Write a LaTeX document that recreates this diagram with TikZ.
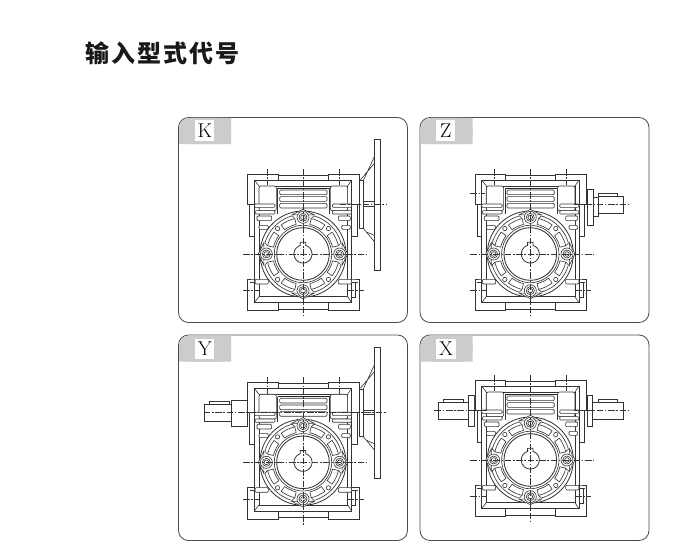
\documentclass[tikz,border=0pt]{standalone}
\usepackage{fontspec}
\newfontfamily\cjk[LetterSpace=8]{Noto Sans CJK SC}
\tikzset{
  panel/.style={draw=black!70,line width=.6pt,fill=white,rounded corners=7.5pt},
  tabgray/.style={fill=black!20,draw=none},
  tag/.style={fill=white,inner sep=0pt,minimum width=14.5pt,minimum height=15pt,font=\fontsize{15}{15}\selectfont,text=black},
  ink/.style={draw=black!80,line width=.46pt,fill=white},
  inkopen/.style={draw=black!80,line width=.46pt},
  heavy/.style={draw=black!85,line width=.7pt},
  axis/.style={draw=black!80,line width=.32pt,dash pattern=on 5pt off 1.2pt on 1.2pt off 1.2pt},
}
\newcommand{\slot}[4]{\draw[ink,rounded corners=.8pt] (#1,#3) rectangle (#2,#4);}
\newcommand{\sector}[4]{\draw[ink,line join=round] plot[domain=#1:#2,samples=7] (\x:#3) -- plot[domain=#2:#1,samples=7] (\x:#4) -- cycle;}
\newcommand{\gearbox}[2]{%
 \begin{scope}[shift={(#1,#2)},x=.25pt,y=-.25pt]
  % outer housing
  \draw[ink] (-166,-150) -- (-166,-240) -- (-74,-240) -- (-74,-222) -- (76,-222) -- (76,-240) -- (169,-240) -- (169,-150) -- cycle;
  \draw[ink] (-74,-236) rectangle (76,-222);
  \draw[ink] (-166,170) -- (-166,75) -- (-146,75) -- (146,75) -- (169,75) -- (169,170) -- (76,170) -- (76,146) -- (-74,146) -- (-74,170) -- cycle;
  \draw[ink] (-74,166) -- (76,166);
  \draw[ink] (-160,-150) rectangle (-146,-54);
  \draw[ink] (146,-150) rectangle (162,-54);
  \draw[inkopen] (-160,85) -- (-146,85) (146,85) -- (165,85) (158,85) -- (158,130) -- (146,130);
  % body
  \draw[ink,line width=.6pt] (-146,-222) rectangle (146,146);
  \draw[ink] (-132,-204) rectangle (134,128);
  \draw[inkopen] (-146,-222) -- (-132,-204) (146,-222) -- (134,-204) (-146,146) -- (-132,128) (146,146) -- (134,128);
  % upper blocks and fins
  \draw[ink,rounded corners=1.5pt] (-132,-204) -- (-80,-204) -- (-80,-130) -- (-132,-130) -- cycle;
  \draw[ink,rounded corners=1.5pt] (82,-204) -- (134,-204) -- (134,-130) -- (82,-130) -- cycle;
  \draw[heavy] (-76,-197) -- (80,-197);
  \draw[inkopen] (-76,-197) -- (-76,-120) (80,-197) -- (80,-120);
  \slot{-70}{72}{-192}{-178}
  \slot{-70}{72}{-172}{-158}
  \slot{-70}{72}{-152}{-138}
  % slots
  \slot{-146}{-84}{-150}{-140}
  \slot{88}{146}{-150}{-140}
  \slot{-144}{-84}{-130}{-120}
  \slot{88}{146}{-130}{-120}
  \slot{-138}{-94}{-114}{-100}
  \slot{106}{142}{-114}{-100}
  \slot{-132}{-104}{-86}{-74}
  \slot{116}{142}{-86}{-74}
  \slot{-144}{-104}{76}{90}
  \slot{106}{146}{76}{90}
  % flange
  \draw[ink,line width=.6pt] (0,0) circle[radius=129];
  \foreach \a in {0,90,180,270}{
    \draw[ink] (\a-16:122) -- (\a:134) -- (\a+16:122) -- cycle;
    \sector{\a+13}{\a+37}{91}{109}
    \sector{\a-37}{\a-13}{91}{109}
    \draw[inkopen] plot[domain=\a+16:\a+74,samples=13] (\x:119);
    \draw[inkopen] (\a+16:119) -- (\a+13:109) (\a+74:119) -- (\a+77:109);
    \draw[ink] (\a:110) circle[radius=18];
    \draw[ink] (\a:110) circle[radius=12];
    \draw[ink] (\a:110) circle[radius=7];
    \draw[ink] (\a+45:108) circle[radius=6.5];
  }
  \draw[ink] (0,0) circle[radius=86];
  \draw[ink,line width=.65pt] (0,0) circle[radius=79];
  \draw[ink,line width=.6pt] (-8,-35) -- (-8,-25.7) -- plot[domain=252:-72,samples=31] (\x:27) -- (8,-35) -- cycle;
  % centre lines
  \draw[axis] (0,-255) -- (0,190);
  \draw[axis] (-180,0) -- (190,0);
  \draw[axis] (-108,-255) -- (-108,-206);
  \draw[axis] (108,-255) -- (108,-206);
  \draw[axis] (-180,110) -- (-132,110);
  \draw[axis] (134,110) -- (182,110);
 \end{scope}}
\newcommand{\wheel}[2]{%
 \begin{scope}[shift={(#1,#2)},x=.25pt,y=-.25pt]
  \draw[ink] (169,-220) rectangle (181,-77);
  \draw[ink] (181,-157) rectangle (214,-143);
  \draw[inkopen] (181,-220) -- (214,-292) (172,-222) -- (214,-272) (181,-77) -- (214,-37) (190,-66) -- (214,-56);
  \draw[ink,line width=.6pt] (214,-344) rectangle (232,48);
 \end{scope}}
\begin{document}
\begin{tikzpicture}[x=.75pt,y=-.75pt]
 \useasboundingbox (0,0) rectangle (700,560);
 \fill[white] (0,0) rectangle (700,560);
 \node[anchor=west,inner sep=0pt,font=\cjk\bfseries\fontsize{18}{18}\selectfont,text=black!90] (title) at (85.5,53) {输入型式代号};
 % panels
 \draw[panel] (178.5,117.5) rectangle (407.5,322.5);
 \draw[panel] (420,117.5) rectangle (649,322.5);
 \draw[panel] (178.5,335) rectangle (407.5,540.5);
 \draw[panel] (420,335) rectangle (649,540.5);
 % grey tabs
 \fill[tabgray,rounded corners=7.5pt] (179,118) -- (231,118) -- (231,144) -- (179,144) -- cycle;
 \fill[tabgray] (179,130) rectangle (231,144) (190,118) rectangle (231,130);
 \fill[tabgray,rounded corners=7.5pt] (420.5,118) -- (472.5,118) -- (472.5,144) -- (420.5,144) -- cycle;
 \fill[tabgray] (420.5,130) rectangle (472.5,144) (431,118) rectangle (472.5,130);
 \fill[tabgray,rounded corners=7.5pt] (179,335.5) -- (231,335.5) -- (231,361.5) -- (179,361.5) -- cycle;
 \fill[tabgray] (179,347) rectangle (231,361.5) (190,335.5) rectangle (231,347);
 \fill[tabgray,rounded corners=7.5pt] (420.5,335.5) -- (472.5,335.5) -- (472.5,361.5) -- (420.5,361.5) -- cycle;
 \fill[tabgray] (420.5,347) rectangle (472.5,361.5) (431,335.5) rectangle (472.5,347);
 \node[tag] (k) at (204.7,130.5) {K};
 \node[tag] (z) at (445.7,130.5) {Z};
 \node[tag] (y) at (204.7,348.5) {Y};
 \node[tag] (xx) at (446,348.5) {X};
 % K
 \wheel{303}{254}
 \gearbox{303}{254}
 \begin{scope}[shift={(303,254)},x=.25pt,y=-.25pt]\draw[axis] (110,-150) -- (250,-150);\end{scope}
 % Z
 \begin{scope}[shift={(530.3,254)},x=.25pt,y=-.25pt]
  \draw[ink] (171,-195) rectangle (189,-85);
  \draw[ink] (189,-170) rectangle (204,-112);
  \draw[ink] (204,-172) rectangle (279,-122);
  \draw[ink] (204,-182) rectangle (262,-172);
 \end{scope}
 \gearbox{530.3}{254}
 \begin{scope}[shift={(530.3,254)},x=.25pt,y=-.25pt]\draw[axis] (130,-148) -- (294,-148);\draw[axis] (-180,-182) -- (-135,-182);\end{scope}
 % Y
 \wheel{303}{462.3}
 \begin{scope}[shift={(303,462.3)},x=.25pt,y=-.25pt]
  \draw[ink] (-214,-187) rectangle (-166,-107);
  \draw[ink] (-296,-175) rectangle (-214,-123);
  \draw[ink] (-282,-182) rectangle (-222,-175);
 \end{scope}
 \gearbox{303}{462.3}
 \begin{scope}[shift={(303,462.3)},x=.25pt,y=-.25pt]\draw[axis] (-298,-150) -- (250,-150);\end{scope}
 % X
 \begin{scope}[shift={(530.3,460)},x=.25pt,y=-.25pt]
  \draw[ink] (171,-195) rectangle (187,-100);
  \draw[ink] (187,-172) rectangle (279,-122);
  \draw[ink] (204,-183) rectangle (262,-172);
  \draw[ink] (-168,-195) rectangle (-186,-100);
  \draw[ink] (-186,-172) rectangle (-276,-122);
  \draw[ink] (-201,-183) rectangle (-260,-172);
 \end{scope}
 \gearbox{530.3}{460}
 \begin{scope}[shift={(530.3,460)},x=.25pt,y=-.25pt]\draw[axis] (130,-148) -- (294,-148);\draw[axis] (-130,-148) -- (-292,-148);\end{scope}
\end{tikzpicture}
\end{document}
